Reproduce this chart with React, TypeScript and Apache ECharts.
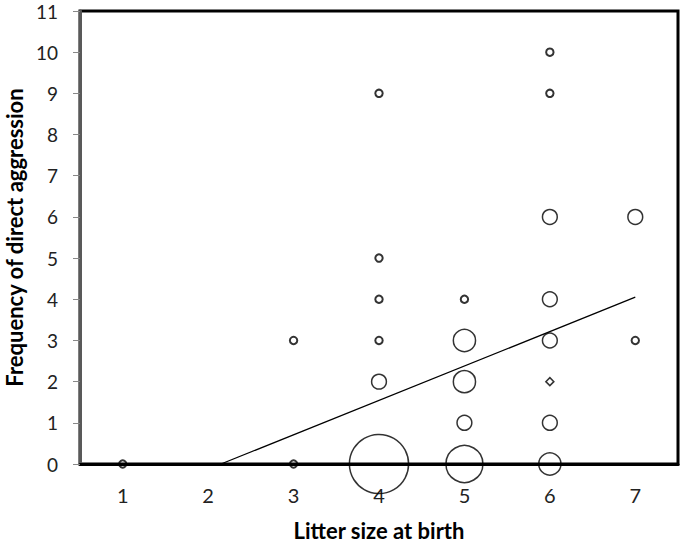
import React, { useEffect, useRef } from "react";
import * as echarts from "echarts";

// Litter size at birth (x), frequency of direct aggression (y), number of animals at that point
const pointX = [1, 3, 3, 4, 4, 4, 4, 4, 4, 5, 5, 5, 5, 5, 6, 6, 6, 6, 6, 6, 6, 7, 7];
const pointY = [0, 0, 3, 9, 5, 4, 3, 2, 0, 4, 3, 2, 1, 0, 10, 9, 6, 4, 3, 1, 0, 6, 3];
const pointCount = [1, 1, 1, 1, 1, 1, 1, 2, 8, 1, 3, 3, 2, 5, 1, 1, 2, 2, 2, 2, 3, 2, 1];

// odd diamond-shaped marker
const diamondX = [6];
const diamondY = [2];

// linear trend line end points
const trendX = [2.15, 7];
const trendY = [0, 4.05];

const xTicks = [1, 2, 3, 4, 5, 6, 7];
const yTicks = [0, 1, 2, 3, 4, 5, 6, 7, 8, 9, 10, 11];

const FONT = "Lato, 'Open Sans', sans-serif";

export default function App() {
  const ref = useRef<HTMLDivElement>(null);
  useEffect(() => {
    if (!ref.current) return;
    const chart = echarts.init(ref.current, undefined, { renderer: "svg" });
    const bubbles = pointX.map((x, i) => ({
      value: [x, pointY[i]],
      symbolSize: 7.4 * pointCount[i],
      itemStyle: { borderWidth: pointCount[i] === 1 ? 2 : 1.5 },
    }));
    chart.setOption({
      animation: false,
      grid: {
        left: 80,
        right: 7,
        top: 11,
        bottom: 80,
        containLabel: false,
        outerBoundsMode: "none",
        show: true,
        borderColor: "#000",
        borderWidth: 3,
        backgroundColor: "transparent",
      },
      xAxis: {
        type: "value",
        min: 0.5,
        max: 7.5,
        interval: 0.5,
        name: "Litter size at birth",
        nameLocation: "middle",
        nameGap: 54,
        nameTextStyle: { fontFamily: FONT, fontWeight: "bold", fontSize: 22, lineHeight: 24, color: "#000" },
        axisLine: { show: true, lineStyle: { color: "#000", width: 3 } },
        axisTick: { show: false },
        splitLine: { show: false },
        axisLabel: {
          margin: 22,
          fontFamily: FONT,
          fontSize: 20,
          lineHeight: 18,
          color: "#222",
          formatter: (v: number) => (xTicks.includes(v) ? String(v) : ""),
        },
      },
      yAxis: {
        type: "value",
        min: yTicks[0],
        max: yTicks[yTicks.length - 1],
        interval: 1,
        name: "Frequency of direct aggression",
        nameLocation: "middle",
        nameGap: 53,
        nameTextStyle: { fontFamily: FONT, fontWeight: "bold", fontSize: 22, color: "#000" },
        axisLine: { show: true, lineStyle: { color: "#595959", width: 3 } },
        axisTick: { show: true, length: 7, lineStyle: { color: "#888", width: 1 } },
        splitLine: { show: false },
        axisLabel: { margin: 22, fontFamily: FONT, fontSize: 19, lineHeight: 17, color: "#222" },
      },
      series: [
        {
          type: "line",
          data: trendX.map((x, i) => [x, trendY[i]]),
          symbol: "none",
          lineStyle: { color: "#000", width: 1.3 },
          z: 3,
        },
        {
          type: "scatter",
          clip: false,
          data: bubbles,
          symbol: "circle",
          itemStyle: { color: "transparent", borderColor: "#000" },
          z: 4,
        },
        {
          type: "scatter",
          clip: false,
          data: diamondX.map((x, i) => [x, diamondY[i]]),
          symbol: "diamond",
          symbolSize: 8,
          itemStyle: { color: "transparent", borderColor: "#000", borderWidth: 1.5 },
          z: 4,
        },
      ],
    });
    return () => chart.dispose();
  }, []);
  return (
    <div
      ref={ref}
      style={{ position: "absolute", left: 0, top: 0, width: 685, height: 544, background: "#fff" }}
    />
  );
}
